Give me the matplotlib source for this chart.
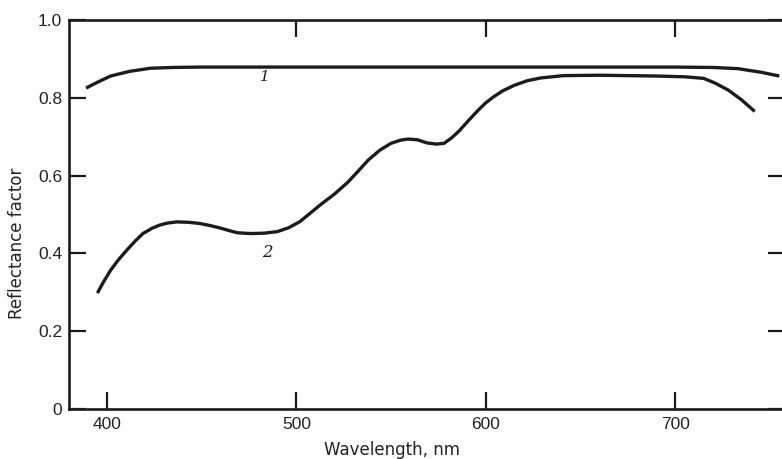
import matplotlib
matplotlib.use("Agg")
import matplotlib.pyplot as plt
import numpy as np

# Curve 1 (upper)
wl1 = [389, 395, 402, 412, 423, 435, 449, 480, 550, 640, 700, 720, 733, 745, 755]
r1 = [0.825, 0.840, 0.856, 0.868, 0.876, 0.878, 0.879, 0.879, 0.879, 0.879, 0.879, 0.878, 0.875, 0.866, 0.856]

# Curve 2 (lower)
wl2 = [395, 398, 402, 406, 411, 415, 419, 424, 428, 432, 437, 443, 449, 455, 460, 465, 469, 476,
       483, 490, 496, 502, 507, 513, 520, 527, 532, 538, 544, 550, 555,
       559, 564, 569, 574, 578, 582, 586, 591, 596, 600, 604, 609, 615, 622, 629,
       641, 660, 690, 705, 715, 721, 728, 735, 742]
r2 = [0.298, 0.325, 0.357, 0.383, 0.411, 0.432, 0.451, 0.465, 0.473, 0.478, 0.481, 0.480, 0.477, 0.471, 0.465, 0.458, 0.453, 0.451,
      0.452, 0.456, 0.466, 0.482, 0.502, 0.526, 0.552, 0.582, 0.608, 0.640, 0.665, 0.683, 0.691,
      0.694, 0.692, 0.684, 0.681, 0.683, 0.697, 0.715, 0.742, 0.768, 0.787, 0.802, 0.818, 0.832, 0.844, 0.851,
      0.857, 0.858, 0.856, 0.854, 0.850, 0.838, 0.820, 0.795, 0.765]

xticks = [400, 500, 600, 700]
top_ticks = [500, 600, 700]
yticks = [0, 0.2, 0.4, 0.6, 0.8, 1.0]
ytick_labels = ["0", "0.2", "0.4", "0.6", "0.8", "1.0"]

plt.rcParams['font.family'] = ['Liberation Sans', 'DejaVu Sans']

fig = plt.figure(figsize=(7.82, 4.59), dpi=100)
ax = fig.add_axes([69/782, 1-409/459, (785-69)/782, (409-20)/459])

ink = '#1c1c1c'
for x, y in ((wl1, r1), (wl2, r2)):
    ax.plot(x, y, color=ink, lw=2.4, solid_capstyle='butt', solid_joinstyle='round')

ax.set_xlim(380, 758)
ax.set_ylim(0, 1.0)
ax.set_xticks(xticks)
ax.set_yticks(yticks)
ax.set_yticklabels(ytick_labels)

for s in ax.spines.values():
    s.set_linewidth(1.9)
    s.set_color(ink)

ax.tick_params(axis='both', direction='in', length=12, width=1.6, color=ink,
               labelsize=12.5, labelcolor='#222222', top=False, right=True)
ax.tick_params(axis='x', pad=6)
ax.tick_params(axis='y', pad=5)

sec = ax.secondary_xaxis('top')
sec.set_xticks(top_ticks)
sec.tick_params(direction='in', length=12, width=1.6, color=ink, labeltop=False)
sec.spines['top'].set_visible(False)

ax.text(481, 0.842, "1", fontsize=11, style='italic', family='DejaVu Serif', color=ink)
ax.text(482, 0.39, "2", fontsize=12, style='italic', family='DejaVu Serif', color=ink)

ax.set_xlabel("Wavelength, nm", fontsize=12, color='#222222', family='DejaVu Sans')
ax.xaxis.set_label_coords((392-69)/(785-69), -0.082)
ax.set_ylabel("Reflectance factor", fontsize=12, color='#222222', family='DejaVu Sans')
ax.yaxis.set_label_coords(-(69-26)/(785-69), (409-243)/389)

fig.savefig("out.png", dpi=100)
